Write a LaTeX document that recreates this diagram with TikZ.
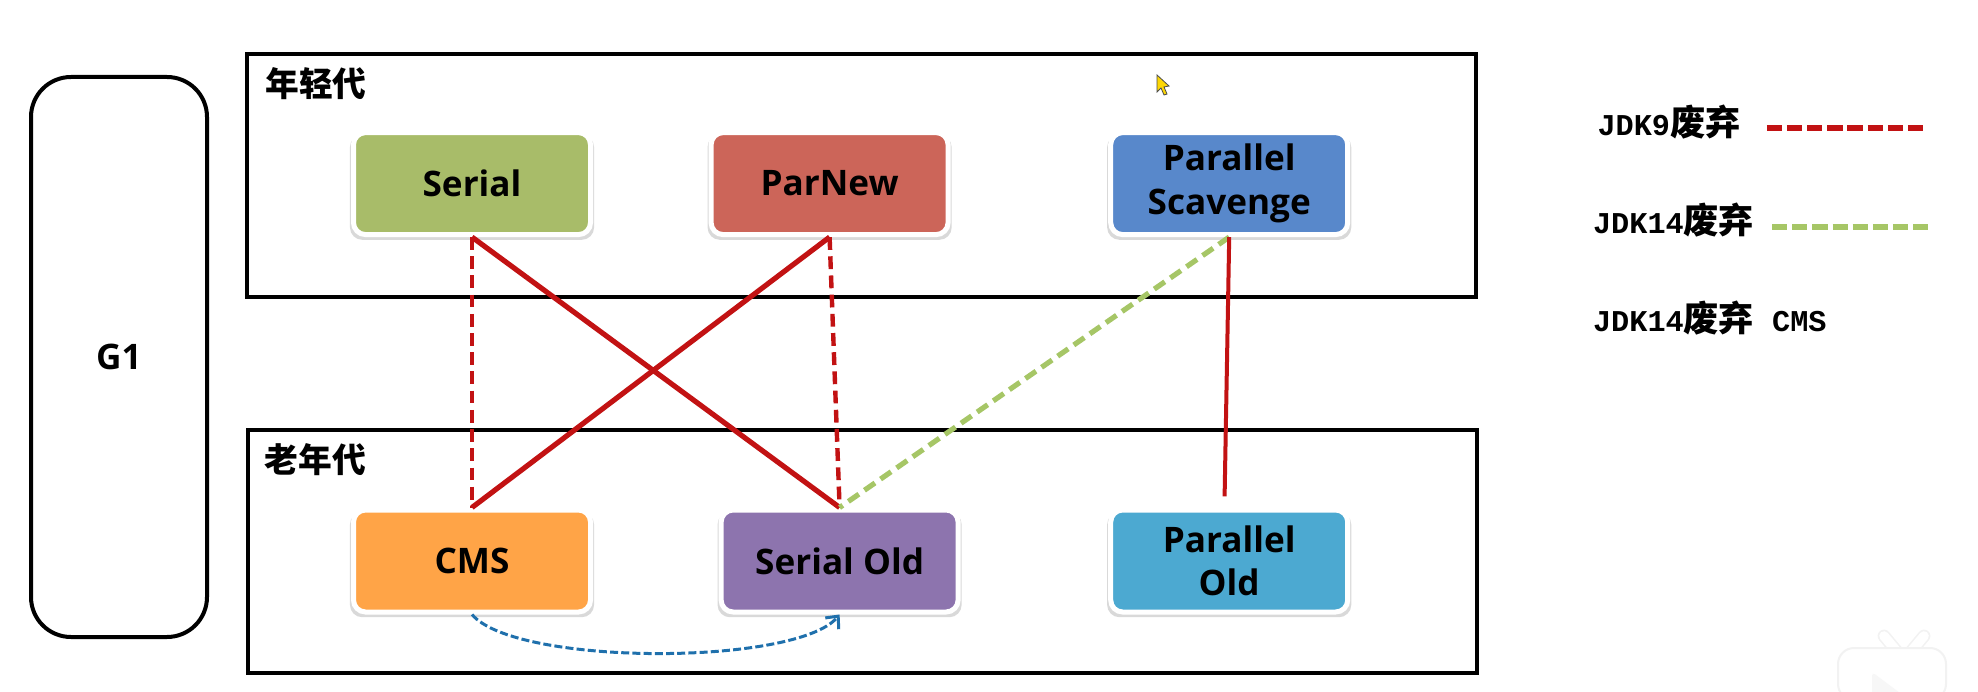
\documentclass[tikz,border=0pt]{standalone}
\usepackage{fontspec}
\setmainfont{Open Sans}
\newfontfamily\cjk{Noto Sans CJK SC}
\newfontfamily\legendmono{Liberation Mono}
\usepackage{tikz}
\usetikzlibrary{arrows.meta, positioning, shadows}
\definecolor{serialc}{HTML}{A8BC69}
\definecolor{parnewc}{HTML}{CC6559}
\definecolor{scavengec}{HTML}{5888CB}
\definecolor{cmsc}{HTML}{FFA447}
\definecolor{seroldc}{HTML}{8D74AE}
\definecolor{paroldc}{HTML}{4CA9D1}
\definecolor{linered}{HTML}{C21213}
\definecolor{linegreen}{HTML}{A6C666}
\definecolor{lineblue}{HTML}{1F70AC}

\begin{document}
\begin{tikzpicture}[
        font=\fontsize{25}{31}\selectfont\bfseries,
        gcbox/.style={
            draw=white,
            line width=1.25mm,
            rounded corners=3mm,
            align=center,
            minimum width=59.25mm,
            minimum height=25.5mm,
            drop shadow={shadow xshift=0mm, shadow yshift=-0.9mm, shadow scale=1.03, opacity=0.15, fill=black}
        },
        genframe/.style={
            draw=black,
            line width=1mm,
            minimum width=307.25mm,
            minimum height=60.75mm
        },
        genlabel/.style={
            font=\fontsize{24}{28}\selectfont\cjk\bfseries,
            inner sep=0pt
        },
        legendtext/.style={
            font=\fontsize{21.5}{26}\selectfont\legendmono\bfseries,
            inner sep=0pt,
            anchor=west
        },
        redsolid/.style={draw=linered, line width=1.3mm},
        reddash/.style={draw=linered, line width=1.1mm, dash pattern=on 3.2mm off 1.6mm},
        greendash/.style={draw=linegreen, line width=1.3mm, dash pattern=on 3.2mm off 1.7mm},
        legenddash/.style={line width=1.5mm, dash pattern=on 3.8mm off 1.24mm},
        swaparrow/.style={
            -{Straight Barb[length=2.4mm, width=4.4mm]},
            draw=lineblue,
            line width=0.75mm,
            dash pattern=on 2mm off 0.8mm
        }
    ]
    \useasboundingbox (0,0) rectangle (494.5mm,-173mm);

    \node[genframe] (young) at (215.4mm,-43.9mm) {};
    \node[genframe] (old) at (215.5mm,-137.9mm) {};
    \node[genlabel, below right=3.9mm and 5mm of young.north west] (younglabel) {年轻代};
    \node[genlabel, below right=3.7mm and 4.7mm of old.north west] (oldlabel) {老年代};

    \node[draw=black, line width=1mm, rounded corners=10mm, minimum width=44mm, minimum height=140mm] (gone) at (29.75mm,-89.25mm) {G1};

    \node[gcbox, fill=serialc] (serial) at (118mm,-45.9mm) {Serial};
    \node[gcbox, fill=parnewc, right=28.9mm of serial] (parnew) {ParNew};
    \node[gcbox, fill=scavengec, right=39.4mm of parnew] (scavenge) {Parallel\\Scavenge};
    \node[gcbox, fill=cmsc, below=67.6mm of serial] (cms) {CMS};
    \node[gcbox, fill=seroldc, right=31.4mm of cms] (serialold) {Serial Old};
    \node[gcbox, fill=paroldc, below=67.6mm of scavenge] (parallelold) {Parallel\\Old};

    \draw[reddash] (serial.south) -- (cms.north);
    \draw[redsolid] (serial.south) -- (serialold.north);
    \draw[redsolid] (parnew.south) -- (cms.north);
    \draw[reddash] (parnew.south) -- (serialold.north);
    \draw[greendash] (scavenge.south) -- (serialold.north);
    \draw[redsolid, line width=1mm, shorten >=2.8mm] (scavenge.south) -- ([xshift=-1.2mm]parallelold.north);
    \draw[swaparrow] (cms.south) to[out=-50, in=-130, looseness=0.47] (serialold.south);

    % legend
    \node[legendtext] (legendnine) at (399.3mm,-30.5mm) {JDK9{\cjk\fontsize{25}{26}\selectfont\bfseries 废弃}};
    \node[legendtext] (legendfourteen) at (398.2mm,-55mm) {JDK14{\cjk\fontsize{25}{26}\selectfont\bfseries 废弃}};
    \node[legendtext] (legendcms) at (398.2mm,-79.5mm) {JDK14{\cjk\fontsize{25}{26}\selectfont\bfseries 废弃}\ CMS};

    \coordinate (nineleft) at (441.7mm,-32mm);
    \coordinate (nineright) at (480.8mm,-32mm);
    \coordinate (fourteenleft) at (443mm,-56.7mm);
    \coordinate (fourteenright) at (482.3mm,-56.7mm);
    \draw[legenddash, draw=linered] (nineleft) -- (nineright);
    \draw[legenddash, draw=linegreen] (fourteenleft) -- (fourteenright);

    % pointer and watermark
    \fill[yellow!75!orange, draw=black!70, line width=0.2mm] (289.25mm,-18.75mm) -- (289.25mm,-23mm) -- (290.25mm,-22mm) -- (291mm,-23.75mm) -- (291.75mm,-23.5mm) -- (291mm,-21.75mm) -- (292.25mm,-21.5mm) -- cycle;
    \draw[black!5, line width=3.2mm, line cap=round] (471mm,-159mm) -- (476mm,-165mm) -- (481mm,-159mm);
    \draw[white, line width=2.4mm, line cap=round] (471mm,-159mm) -- (476mm,-165mm) -- (481mm,-159mm);
    \fill[white, draw=black!5, line width=0.5mm, rounded corners=4mm] (459.5mm,-175mm) -- (459.5mm,-162mm) -- (486.5mm,-162mm) -- (486.5mm,-175mm) -- cycle;
    \fill[black!3, rounded corners=1mm] (468mm,-175mm) -- (468mm,-168mm) -- (476mm,-174mm) -- (476mm,-175mm) -- cycle;

\end{tikzpicture}
\end{document}
